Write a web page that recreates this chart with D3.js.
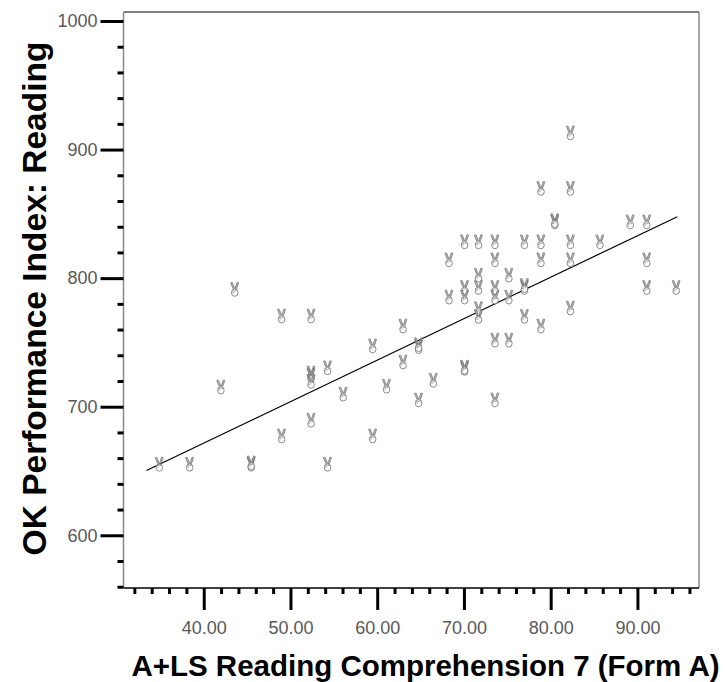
<!DOCTYPE html>
<html>
<head>
<meta charset="utf-8">
<script src="https://cdn.jsdelivr.net/npm/d3@7"></script>
<style>
  body { margin: 0; background: #fff; }
  text { font-family: "Liberation Sans", Arial, sans-serif; }
</style>
</head>
<body>
<div id="chart"></div>
<script>
// scatter data (score, index)
const scoreX = [
  82.3, 78.9, 82.3, 80.5, 80.5, 89.2, 91.1,
  70.1, 71.7, 73.6, 77.0, 78.9, 82.3, 85.7,
  68.3, 73.6, 78.9, 82.3, 91.1,
  71.7, 75.2,
  70.1, 71.7, 73.6, 77.0, 77.0, 91.1, 94.5,
  68.3, 70.1, 73.6, 75.2,
  71.7, 71.7, 82.3, 77.0, 78.9, 73.6, 75.2,
  43.6, 49.0, 52.4, 63.0, 59.5, 64.8, 64.8, 63.0, 70.1, 70.1,
  54.3, 52.4, 52.4, 52.4, 42.0, 61.1, 66.5, 56.1, 64.8, 73.6,
  52.4, 49.0, 59.5, 34.9, 38.4, 45.5, 45.5, 54.3
];
const indexY = [
  912.7, 869.5, 869.5, 843.5, 844.5, 843.5, 843.5,
  828, 828, 828, 828, 828, 828, 828,
  814, 814, 814, 814, 814,
  802, 802,
  792.5, 792.5, 792.5, 792.5, 794, 792.5, 792.5,
  785, 785, 785, 785,
  776, 770, 776.5, 770, 762.5, 751.5, 751.5,
  791, 770.3, 770.3, 762.5, 747, 746.5, 748, 734.5, 729.5, 730.5,
  730, 726, 724, 719.5, 715, 715.7, 720.3, 709.5, 705, 705,
  689.2, 677, 677, 655, 655, 655, 656, 655
];

// fitted line end points
const fitX = [33.4, 94.6];
const fitY = [650.4, 847.8];

const xTicks = [40, 50, 60, 70, 80, 90];
const yTicks = [600, 700, 800, 900, 1000];
const xMinor = [32, 34, 36, 38, 42, 44, 46, 48, 52, 54, 56, 58, 62, 64, 66, 68, 72, 74, 76, 78, 82, 84, 86, 88, 92, 94, 96];
const yMinor = [560, 580, 620, 640, 660, 680, 720, 740, 760, 780, 820, 840, 860, 880, 920, 940, 960, 980];

const xTitle = "A+LS Reading Comprehension 7 (Form A)";
const yTitle = "OK Performance Index: Reading";

const W = 725, H = 682;
const plot = { left: 123.5, right: 699, top: 12, bottom: 588 };

const svg = d3.select("#chart")
  .append("svg")
    .attr("width", W)
    .attr("height", H);

// victory-hand marker symbol (no installed font carries the glyph)
const hand = svg.append("defs").append("g").attr("id", "hand");
hand.append("path")
  .attr("d", "M-4.3,-7 L-2.7,-7.3 L-0.3,-1.4 L-1.9,-0.9 Z M2.1,-7.4 L3.7,-7 L1.7,-0.9 L0.1,-1.3 Z")
  .attr("fill", "#a8a8a8")
  .attr("stroke", "#6a6a6a")
  .attr("stroke-width", 0.8);
hand.append("ellipse")
  .attr("cx", -0.2).attr("cy", 3)
  .attr("rx", 3.3).attr("ry", 3.6)
  .attr("fill", "#fff")
  .attr("stroke", "#777")
  .attr("stroke-width", 1);
hand.append("path")
  .attr("d", "M-3.2,0.6 Q-0.5,2.2 2.6,0.4 M-3.3,2.4 L-0.8,2.8")
  .attr("fill", "none")
  .attr("stroke", "#888")
  .attr("stroke-width", 0.8);

const x = d3.scaleLinear()
  .domain([30.75, 97.1])
  .range([plot.left, plot.right]);

const y = d3.scaleLinear()
  .domain([559, 1007])
  .range([plot.bottom, plot.top]);

// frame
svg.append("line")
  .attr("x1", plot.left).attr("x2", plot.right)
  .attr("y1", plot.top).attr("y2", plot.top)
  .attr("stroke", "#000").attr("stroke-width", 1);
svg.append("line")
  .attr("x1", plot.right).attr("x2", plot.right)
  .attr("y1", plot.top).attr("y2", plot.bottom)
  .attr("stroke", "#8a8a8a").attr("stroke-width", 1.5);
svg.append("line")
  .attr("x1", plot.left).attr("x2", plot.left)
  .attr("y1", plot.top).attr("y2", plot.bottom)
  .attr("stroke", "#8a8a8a").attr("stroke-width", 1.5);

// minor ticks
const xMinorAxis = svg.append("g")
  .attr("transform", `translate(0,${plot.bottom})`)
  .call(d3.axisBottom(x).tickValues(xMinor).tickSize(6).tickFormat(""));
const yMinorAxis = svg.append("g")
  .attr("transform", `translate(${plot.left},0)`)
  .call(d3.axisLeft(y).tickValues(yMinor).tickSize(6).tickFormat(""));

// major ticks
const xAxis = svg.append("g")
  .attr("transform", `translate(0,${plot.bottom})`)
  .call(d3.axisBottom(x).tickValues(xTicks).tickSize(22).tickPadding(11).tickFormat(d3.format(".2f")));
const yAxis = svg.append("g")
  .attr("transform", `translate(${plot.left},0)`)
  .call(d3.axisLeft(y).tickValues(yTicks).tickSize(23).tickPadding(3).tickFormat(d3.format("d")));

[xMinorAxis, yMinorAxis, xAxis, yAxis].forEach(g => {
  g.select(".domain").remove();
  g.selectAll(".tick line")
    .attr("stroke", "#000")
    .attr("stroke-width", 3);
  g.selectAll(".tick text")
    .attr("fill", "#595959")
    .attr("font-size", 18)
    .attr("font-family", "'Liberation Sans', Arial, sans-serif");
});

// bottom edge
svg.append("line")
  .attr("x1", plot.left).attr("x2", plot.right)
  .attr("y1", plot.bottom).attr("y2", plot.bottom)
  .attr("stroke", "#000").attr("stroke-width", 1.5);

// regression line
svg.append("line")
  .attr("x1", x(fitX[0])).attr("y1", y(fitY[0]))
  .attr("x2", x(fitX[1])).attr("y2", y(fitY[1]))
  .attr("stroke", "#000")
  .attr("stroke-width", 1.2);

// markers
const pts = scoreX.map((v, i) => ({ sx: v, iy: indexY[i] }));
svg.selectAll(".pt")
  .data(pts)
  .enter()
  .append("use")
    .attr("class", "pt")
    .attr("href", "#hand")
    .attr("transform", d => `translate(${x(d.sx)},${y(d.iy)})`)
    .attr("opacity", 0.85);

// axis titles
svg.append("text")
  .attr("x", 425.5)
  .attr("y", 676)
  .attr("text-anchor", "middle")
  .attr("font-size", 29.5)
  .attr("font-weight", "bold")
  .attr("fill", "#000")
  .text(xTitle);

svg.append("text")
  .attr("transform", "rotate(-90)")
  .attr("x", -298.5)
  .attr("y", 45.5)
  .attr("text-anchor", "middle")
  .attr("font-size", 33.5)
  .attr("font-weight", "bold")
  .attr("fill", "#000")
  .text(yTitle);
</script>
</body>
</html>
